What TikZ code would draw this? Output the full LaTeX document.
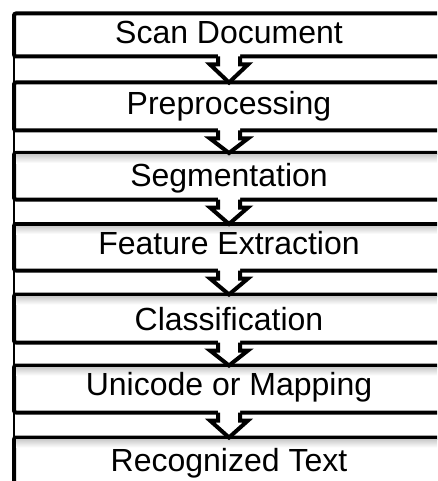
\documentclass[tikz,border=0pt]{standalone}
\usepackage{fontspec}
\setmainfont{Liberation Sans}
\usetikzlibrary{calc}
\tikzset{
  stagebox/.style={draw, line width=4pt, fill=white, rounded corners=2pt,
    minimum width=446pt, inner sep=0pt, outer sep=0pt, anchor=north west},
  lbl/.style={anchor=base, inner sep=0pt, font=\fontsize{32}{38}\selectfont},
  arrowline/.style={line width=4pt, line join=miter, line cap=butt},
  guide/.style={line width=1.5pt},
  topshade/.style={top color=gray!40, bottom color=white, draw=none}
}
\newcommand\flowarrow[2]{%
  \fill[white] ($(#1)+(-11,-2.5)$) -- ($(#1)+(-11,8)$) -- ($(#1)+(-19,8)$) -- (#2)
     -- ($(#1)+(19,8)$) -- ($(#1)+(11,8)$) -- ($(#1)+(11,-2.5)$) -- cycle;
  \draw[arrowline] ($(#1)+(-11,0)$) -- ($(#1)+(-11,8)$) -- ($(#1)+(-19,8)$) -- (#2)
     -- ($(#1)+(19,8)$) -- ($(#1)+(11,8)$) -- ($(#1)+(11,0)$);
}
\begin{document}
\begin{tikzpicture}[x=1pt,y=-1pt]
\useasboundingbox (0,0) rectangle (437,481);
\clip (0,0) rectangle (437,481);
\coordinate (gtop) at (14,13.5);
\coordinate (gbot) at (14,481);
\draw[guide] (gtop) -- (gbot);

\node[stagebox, minimum height=43pt] (b1) at (14,13.5) {};
\node[stagebox, minimum height=48pt] (b2) at (14,82.5) {};
\node[stagebox, minimum height=46.5pt] (b3) at (14,153) {};
\node[stagebox, minimum height=46.5pt] (b4) at (14,224) {};
\node[stagebox, minimum height=48pt] (b5) at (14,294.5) {};
\node[stagebox, minimum height=47pt] (b6) at (14,365.5) {};
\node[stagebox, minimum height=60pt] (b7) at (14,437.5) {};

\shade[topshade] (16,155) rectangle (437,163);
\shade[topshade] (16,226) rectangle (437,234);
\shade[topshade] (16,296.5) rectangle (437,304.5);
\shade[topshade] (16,367.5) rectangle (437,375.5);
\shade[topshade] (16,439.5) rectangle (437,447.5);

\node[lbl] (t1) at (229,43.5) {Scan Document};
\node[lbl] (t2) at (229,115) {Preprocessing};
\node[lbl] (t3) at (229,186.5) {Segmentation};
\node[lbl] (t4) at (229,254) {Feature Extraction};
\node[lbl] (t5) at (229,330.5) {Classification};
\node[lbl] (t6) at (229,395.5) {Unicode or Mapping};
\node[lbl] (t7) at (229,471.5) {Recognized Text};

\coordinate (s1) at (t1 |- b1.south); \coordinate (e1) at (t1 |- b2.north);
\coordinate (s2) at (t1 |- b2.south); \coordinate (e2) at (t1 |- b3.north);
\coordinate (s3) at (t1 |- b3.south); \coordinate (e3) at (t1 |- b4.north);
\coordinate (s4) at (t1 |- b4.south); \coordinate (e4) at (t1 |- b5.north);
\coordinate (s5) at (t1 |- b5.south); \coordinate (e5) at (t1 |- b6.north);
\coordinate (s6) at (t1 |- b6.south); \coordinate (e6) at (t1 |- b7.north);
\flowarrow{s1}{e1}
\flowarrow{s2}{e2}
\flowarrow{s3}{e3}
\flowarrow{s4}{e4}
\flowarrow{s5}{e5}
\flowarrow{s6}{e6}
\end{tikzpicture}
\end{document}
